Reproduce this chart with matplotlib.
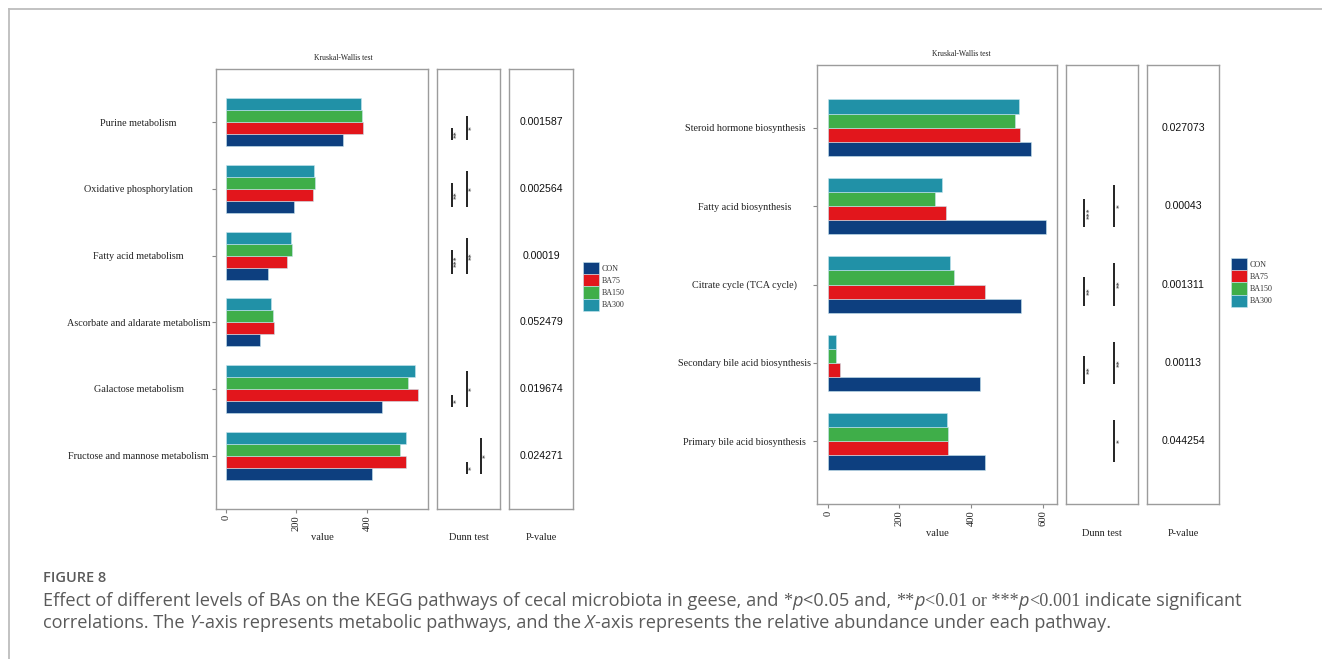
import matplotlib
matplotlib.use("Agg")
import matplotlib.pyplot as plt
from matplotlib.patches import Patch
from matplotlib.lines import Line2D
import numpy as np

W, H = 1322, 659
SERIF = ["Liberation Serif", "DejaVu Serif"]
SANS = ["Liberation Sans", "DejaVu Sans"]
CAP = ["Open Sans", "DejaVu Sans"]

groups = ["CON", "BA75", "BA150", "BA300"]
colors = ["#0d3f7f", "#e2161c", "#3fae49", "#2191a7"]

# left panel, pathways listed top to bottom
left_paths = ["Purine metabolism", "Oxidative phosphorylation", "Fatty acid metabolism",
              "Ascorbate and aldarate metabolism", "Galactose metabolism",
              "Fructose and mannose metabolism"]
left_con = [331, 192, 119, 98, 441, 413]
left_ba75 = [389, 247, 174, 137, 545, 511]
left_ba150 = [386, 254, 189, 133, 515, 494]
left_ba300 = [383, 251, 184, 128, 536, 511]
left_pvals = ["0.001587", "0.002564", "0.00019", "0.052479", "0.019674", "0.024271"]
left_ticks = [0, 200, 400]
# (pathway index, group compared with CON, column, stars)
left_dunn = [(0, "BA75", 0, "**"), (0, "BA150", 1, "*"),
             (1, "BA150", 0, "**"), (1, "BA300", 1, "*"),
             (2, "BA150", 0, "***"), (2, "BA300", 1, "**"),
             (4, "BA75", 0, "*"), (4, "BA300", 1, "*"),
             (5, "BA75", 1, "*"), (5, "BA300", 2, "*")]

# right panel
right_paths = ["Steroid hormone biosynthesis", "Fatty acid biosynthesis",
               "Citrate cycle (TCA cycle)", "Secondary bile acid biosynthesis",
               "Primary bile acid biosynthesis"]
right_con = [568, 610, 539, 426, 438]
right_ba75 = [537, 330, 438, 33, 337]
right_ba150 = [522, 300, 353, 24, 335]
right_ba300 = [533, 318, 341, 23, 332]
right_pvals = ["0.027073", "0.00043", "0.001311", "0.00113", "0.044254"]
right_ticks = [0, 200, 400, 600]
right_dunn = [(1, "BA150", 0, "***"), (1, "BA300", 1, "*"),
              (2, "BA150", 0, "**"), (2, "BA300", 1, "**"),
              (3, "BA150", 0, "**"), (3, "BA300", 1, "**"),
              (4, "BA300", 1, "*")]

fig = plt.figure(figsize=(W / 100, H / 100), dpi=100)


def add_ax(x0, y0, x1, y1):
    return fig.add_axes([x0 / W, 1 - y1 / H, (x1 - x0) / W, (y1 - y0) / H])


def style_box(ax):
    for s in ax.spines.values():
        s.set_color("#9c9c9c")
        s.set_linewidth(1.0)


def draw_panel(paths, vals, pvals, ticks, dunn, cols, main_box, dunn_box, p_box, leg_xy):
    n = len(paths)
    pos = np.arange(n, 0, -1)
    bh = 0.18
    offs = [-1.5, -0.5, 0.5, 1.5]
    ylim = (0.2, n + 0.8)

    ax = add_ax(*main_box)
    handles = []
    for g, v, c, o in zip(groups, vals, colors, offs):
        ax.barh(pos + o * bh, v, height=bh, color=c, edgecolor="#c8e6ef", linewidth=0.4)
        handles.append(Patch(facecolor=c, edgecolor="#c8e6ef", linewidth=0.4, label=g))
    vmax = max(max(v) for v in vals)
    ax.set_xlim(-0.05 * vmax, 1.05 * vmax)
    ax.set_ylim(*ylim)
    ax.set_yticks(pos)
    labs = ax.set_yticklabels(paths, fontfamily=SERIF, fontsize=7.3, color="#222", ha="center")
    ax.set_xticks(ticks)
    ax.set_xticklabels([str(t) for t in ticks], rotation=90, fontfamily=SERIF,
                       fontsize=7.6, color="#222", va="top")
    ax.tick_params(length=3, color="#888", pad=1.5)
    # centre the pathway names in a column ending at the axis
    fig.canvas.draw()
    r = fig.canvas.get_renderer()
    maxw = max(t.get_window_extent(r).width for t in labs)
    ax.tick_params(axis="y", pad=(maxw / 2 + 1.5) * 0.72)
    style_box(ax)
    hpx = main_box[3] - main_box[1]
    ax.text(0.6, 1 + 11 / hpx, "Kruskal-Wallis test", transform=ax.transAxes,
            ha="center", va="center", fontfamily=SERIF, fontsize=5.5, color="#222")
    ax.text(0.5, -29 / hpx, "value", transform=ax.transAxes, ha="center", va="center",
            fontfamily=SERIF, fontsize=7.6, color="#222")

    # Dunn test brackets: CON vs other group
    ad = add_ax(*dunn_box)
    ad.set_xlim(0, 1)
    ad.set_ylim(*ylim)
    ad.set_xticks([])
    ad.set_yticks([])
    style_box(ad)
    for i, g, col, stars in dunn:
        y0 = pos[i] + offs[0] * bh
        y1 = pos[i] + offs[groups.index(g)] * bh
        x = cols[col]
        ad.plot([x, x], [y0, y1], color="#222", lw=1.4, solid_capstyle="butt")
        ad.text(x + 0.085, (y0 + y1) / 2, stars, rotation=90, ha="center", va="center",
                fontfamily=SERIF, fontsize=5.5, color="#222")
    ad.text(0.5, -29 / hpx, "Dunn test", transform=ad.transAxes, ha="center", va="center",
            fontfamily=SERIF, fontsize=7.4, color="#222")

    # P-values
    ap = add_ax(*p_box)
    ap.set_xlim(0, 1)
    ap.set_ylim(*ylim)
    ap.set_xticks([])
    ap.set_yticks([])
    style_box(ap)
    for y, p in zip(pos, pvals):
        ap.text(0.5, y, p, ha="center", va="center", fontfamily=SANS, fontsize=7.6,
                color="#111")
    ap.text(0.5, -29 / hpx, "P-value", transform=ap.transAxes, ha="center", va="center",
            fontfamily=SERIF, fontsize=7.4, color="#222")

    leg = fig.legend(handles=handles, loc="upper left",
                     bbox_to_anchor=(leg_xy[0] / W, 1 - leg_xy[1] / H),
                     frameon=False, borderpad=0, borderaxespad=0, labelspacing=0,
                     handlelength=1.95, handleheight=1.95, handletextpad=0.35,
                     prop={"family": SERIF, "size": 5.8})
    for t in leg.get_texts():
        t.set_color("#333")


draw_panel(left_paths, [left_con, left_ba75, left_ba150, left_ba300], left_pvals,
           left_ticks, left_dunn, [0.24, 0.48, 0.70],
           (216, 69, 428, 509), (437, 69, 500, 509), (509, 69, 573, 509), (583, 262))
draw_panel(right_paths, [right_con, right_ba75, right_ba150, right_ba300], right_pvals,
           right_ticks, right_dunn, [0.25, 0.67],
           (817, 65, 1057, 504), (1066, 65, 1138, 504), (1147, 65, 1219, 504), (1231, 258))

# frame lines
fig.add_artist(Line2D([9 / W, 1], [1 - 9 / H, 1 - 9 / H], color="#bdbdbd", lw=1.3))
fig.add_artist(Line2D([9 / W, 9 / W], [0, 1 - 9 / H], color="#bdbdbd", lw=1.3))

# caption
CAPC = "#5a5a5a"
fig.text(43 / W, 1 - 582 / H, "FIGURE 8", fontfamily=CAP, fontsize=10.5, color=CAPC,
         va="baseline", fontweight="semibold")


def rich_line(x, y, pieces, size=13.1):
    fig.canvas.draw()
    r = fig.canvas.get_renderer()
    for s, kind in pieces:
        fam, sty = CAP, "normal"
        if kind == "i":
            sty = "italic"
        elif kind == "s":
            fam = SERIF
        t = fig.text(x / W, 1 - y / H, s, fontsize=size, color=CAPC, va="baseline",
                     fontfamily=fam, fontstyle=sty)
        x = t.get_window_extent(r).x1


rich_line(43, 606, [("Effect of different levels of BAs on the KEGG pathways of cecal microbiota in geese, and ", "n"),
                    ("*", "s"), ("p", "i"), ("<0.05 and, ", "n"), ("**", "s"), ("p", "i"),
                    ("<0.01 or ***", "s"), ("p", "i"), ("<0.001", "s"),
                    (" indicate significant", "n")])
rich_line(43, 628, [("correlations. The ", "n"), ("Y", "i"),
                    ("-axis represents metabolic pathways, and the ", "n"), ("X", "i"),
                    ("-axis represents the relative abundance under each pathway.", "n")])

fig.savefig("out.png", dpi=100)
